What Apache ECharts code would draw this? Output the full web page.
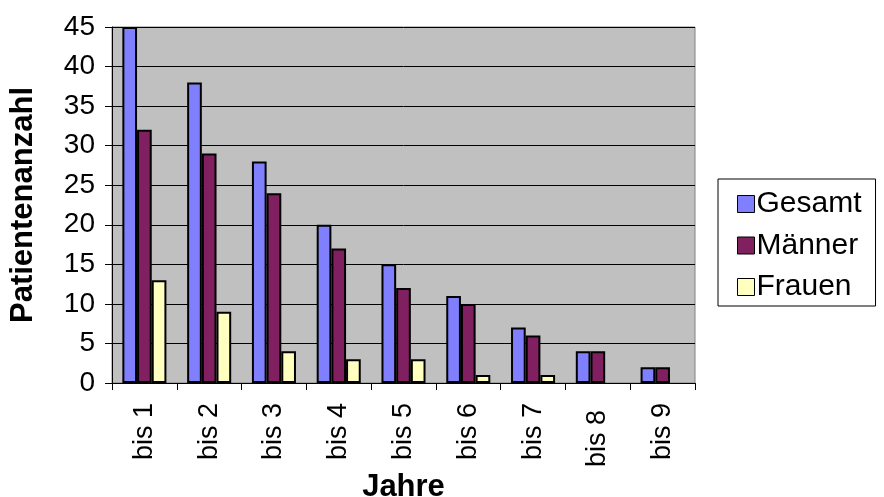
<!DOCTYPE html>
<html>
<head>
<meta charset="utf-8">
<script src="https://cdn.jsdelivr.net/npm/echarts@6/dist/echarts.min.js"></script>
<style>
  html, body { margin: 0; padding: 0; background: #ffffff; }
  #chart { width: 884px; height: 497px; }
</style>
</head>
<body>
<div id="chart"></div>
<script>
// Patient counts by years of follow-up
const categories = ['bis 1', 'bis 2', 'bis 3', 'bis 4', 'bis 5', 'bis 6', 'bis 7', 'bis 8', 'bis 9'];
const gesamt = [45, 38, 28, 20, 15, 11, 7, 4, 2];
const maenner = [32, 29, 24, 17, 12, 10, 6, 4, 2];
const frauen = [13, 9, 4, 3, 3, 1, 1, 0, 0];
const yTicks = { min: 0, max: 45, interval: 5 };

const FONT = '"Liberation Sans", Arial, sans-serif';

// "bis 8" sits a little lower than the other rotated labels
const categoryItems = categories.map(c =>
  c === 'bis 8' ? { value: c, textStyle: { padding: [0, 7, 0, 0] } } : c
);

// empty groups get no bar at all (no zero-height outline)
const asBars = (values) => values.map(v => (v === 0 ? '-' : v));

const barStyle = (color) => ({
  color: color,
  borderColor: '#000000',
  borderWidth: 2
});

const chart = echarts.init(document.getElementById('chart'), null, { renderer: 'canvas' });
chart.setOption({
  animation: false,
  backgroundColor: '#ffffff',
  textStyle: { fontFamily: FONT, color: '#000000' },
  grid: {
    left: 112, right: 189, top: 27, bottom: 114,
    containLabel: false,
    outerBoundsMode: 'none',
    show: true,
    backgroundColor: '#c0c0c0',
    borderColor: '#808080',
    borderWidth: 1
  },
  legend: {
    orient: 'vertical',
    left: 718, top: 179,
    padding: [10, 14, 4, 19],
    backgroundColor: '#ffffff',
    borderColor: '#000000',
    borderWidth: 1,
    borderRadius: 0,
    itemWidth: 17, itemHeight: 17,
    itemGap: 11.5,
    icon: 'rect',
    itemStyle: { borderColor: '#000000', borderWidth: 1 },
    textStyle: { fontFamily: FONT, fontSize: 30, lineHeight: 30, color: '#000000', padding: [0, 0, 0, -3] },
    data: ['Gesamt', 'Männer', 'Frauen']
  },
  xAxis: {
    type: 'category',
    data: categoryItems,
    name: 'Jahre',
    nameLocation: 'middle',
    nameGap: 89,
    nameMoveOverlap: false,
    nameTextStyle: { fontFamily: FONT, fontSize: 31, fontWeight: 'bold', color: '#000000' },
    axisLine: { show: true, lineStyle: { color: '#000000', width: 1 } },
    axisTick: { show: true, length: 7, lineStyle: { color: '#000000' } },
    axisLabel: { rotate: 90, margin: 20, fontFamily: FONT, fontSize: 27, color: '#000000' },
    splitLine: { show: false }
  },
  yAxis: {
    type: 'value',
    min: yTicks.min, max: yTicks.max, interval: yTicks.interval,
    name: 'Patientenanzahl',
    nameLocation: 'middle',
    nameGap: 73,
    nameMoveOverlap: false,
    nameTextStyle: { fontFamily: FONT, fontSize: 31, fontWeight: 'bold', color: '#000000' },
    axisLine: { show: true, lineStyle: { color: '#000000', width: 1 } },
    axisTick: { show: true, length: 7, lineStyle: { color: '#000000' } },
    axisLabel: { margin: 17, fontFamily: FONT, fontSize: 28, color: '#000000' },
    splitLine: { show: true, lineStyle: { color: '#000000', width: 1 } }
  },
  series: [
    { name: 'Gesamt', type: 'bar', data: asBars(gesamt), barGap: '0%', barCategoryGap: '32%', itemStyle: barStyle('#8080ff') },
    { name: 'Männer', type: 'bar', data: asBars(maenner), barGap: '0%', barCategoryGap: '32%', itemStyle: barStyle('#802060') },
    { name: 'Frauen', type: 'bar', data: asBars(frauen), barGap: '0%', barCategoryGap: '32%', itemStyle: barStyle('#ffffc0') }
  ]
});
</script>
</body>
</html>
